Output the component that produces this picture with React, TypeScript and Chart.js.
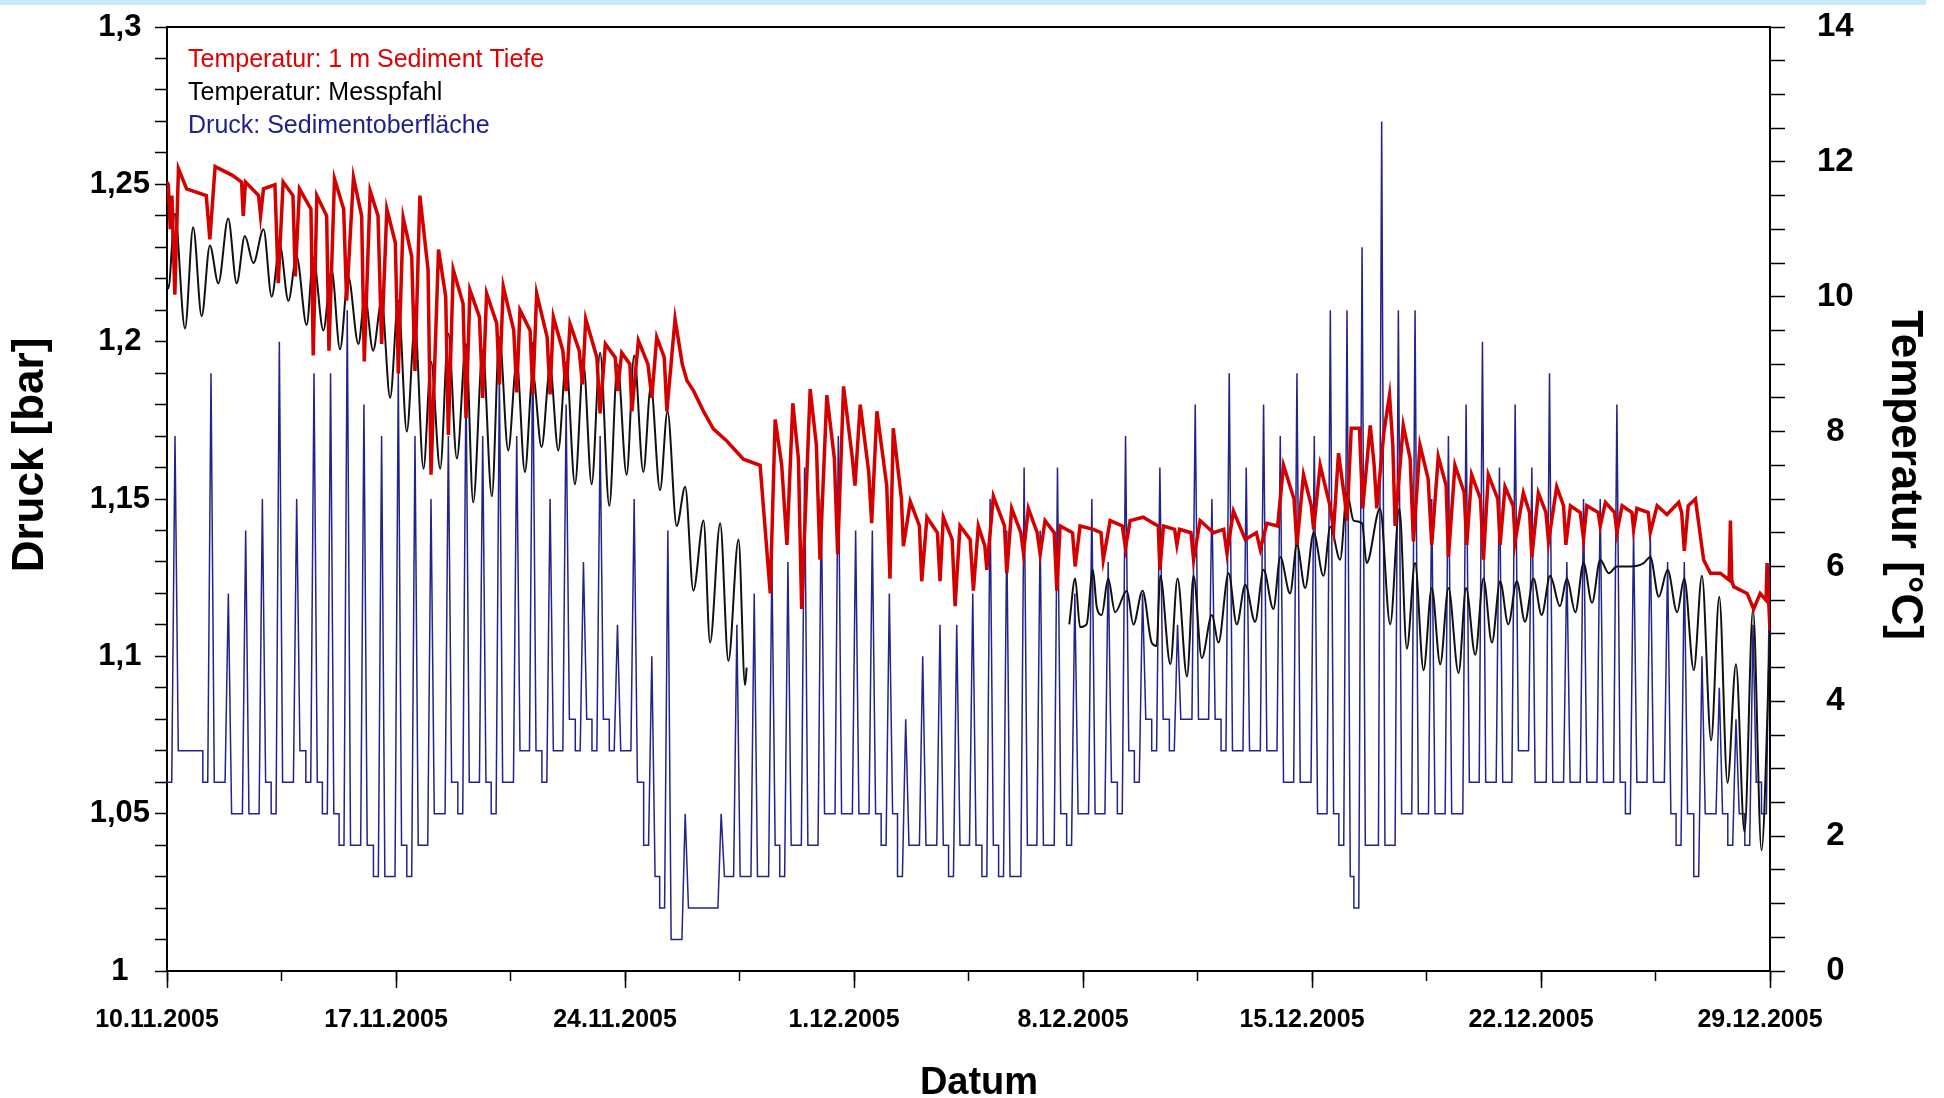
import React, { useEffect, useRef } from 'react';
import { Chart, registerables } from 'chart.js';

Chart.register(...registerables);

// ---------- data ----------
const xTickLabels = ['10.11.2005', '17.11.2005', '24.11.2005', '1.12.2005', '8.12.2005', '15.12.2005', '22.12.2005', '29.12.2005'];
const xMaxDays = 49;

const seriesLabels = ['Temperatur: 1 m Sediment Tiefe', 'Temperatur: Messpfahl', 'Druck: Sedimentoberfläche'];
const seriesColors = ['#d40000', '#111111', '#23238a'];
const legendColors = ['#e00000', '#000000', '#1e1e8c'];

// Pressure at the sediment surface (bar): tide spikes
const pressStart = 1.06;
const tideDays = [0.245, 1.345, 1.875, 2.405, 2.915, 3.434, 3.964, 4.494, 5.0, 5.51, 6.02, 6.56, 7.07, 7.58, 8.07, 8.6, 9.14, 9.65, 10.16, 10.69, 11.18, 11.71, 12.2, 12.73, 13.24, 13.77, 14.28, 14.82, 15.31, 15.84, 16.94, 17.42, 17.95, 18.49, 18.98, 19.49, 20.0, 20.52, 21.05, 21.56, 22.08, 22.58, 23.1, 23.63, 24.14, 24.63, 25.16, 25.67, 26.2, 26.69, 27.22, 27.75, 28.27, 28.77, 29.3, 29.82, 30.35, 30.89, 31.43, 31.94, 32.47, 32.99, 33.52, 34.03, 34.54, 35.07, 35.56, 36.07, 36.53, 37.13, 37.64, 38.15, 38.66, 39.17, 39.71, 40.21, 40.73, 41.21, 41.72, 42.26, 42.79, 43.3, 43.81, 44.32, 44.83, 45.34, 45.87, 46.38, 46.92, 47.45, 47.96, 48.48, 48.99];
const tidePeaks = [1.17, 1.19, 1.12, 1.14, 1.15, 1.20, 1.15, 1.19, 1.19, 1.21, 1.18, 1.17, 1.19, 1.17, 1.15, 1.17, 1.19, 1.17, 1.19, 1.17, 1.20, 1.15, 1.18, 1.13, 1.17, 1.11, 1.15, 1.10, 1.14, 1.05, 1.05, 1.11, 1.12, 1.13, 1.13, 1.16, 1.15, 1.17, 1.14, 1.14, 1.12, 1.08, 1.10, 1.11, 1.11, 1.12, 1.15, 1.14, 1.16, 1.14, 1.16, 1.12, 1.15, 1.13, 1.17, 1.12, 1.16, 1.11, 1.18, 1.15, 1.19, 1.16, 1.18, 1.17, 1.19, 1.17, 1.21, 1.21, 1.23, 1.27, 1.21, 1.21, 1.15, 1.17, 1.18, 1.20, 1.16, 1.18, 1.16, 1.19, 1.13, 1.15, 1.15, 1.18, 1.14, 1.14, 1.13, 1.13, 1.10, 1.09, 1.08, 1.11, 1.13];
const lowAfter = [1.07, 1.06, 1.05, 1.05, 1.06, 1.06, 1.07, 1.06, 1.05, 1.04, 1.04, 1.03, 1.04, 1.04, 1.05, 1.06, 1.06, 1.06, 1.06, 1.07, 1.07, 1.07, 1.08, 1.08, 1.08, 1.07, 1.06, 1.03, 1.01, 1.02, 1.03, 1.03, 1.03, 1.04, 1.04, 1.04, 1.05, 1.05, 1.05, 1.05, 1.05, 1.04, 1.04, 1.04, 1.04, 1.04, 1.04, 1.03, 1.04, 1.04, 1.05, 1.05, 1.05, 1.06, 1.07, 1.08, 1.08, 1.08, 1.08, 1.08, 1.07, 1.07, 1.07, 1.06, 1.06, 1.05, 1.05, 1.03, 1.04, 1.04, 1.05, 1.05, 1.05, 1.05, 1.06, 1.06, 1.06, 1.07, 1.06, 1.06, 1.06, 1.06, 1.06, 1.06, 1.06, 1.06, 1.05, 1.05, 1.05, 1.05, 1.05, 1.06, 1.06];
const lowBefore = [1.06, 1.06, 1.05, 1.05, 1.05, 1.06, 1.06, 1.05, 1.04, 1.04, 1.03, 1.03, 1.03, 1.04, 1.05, 1.05, 1.06, 1.05, 1.06, 1.07, 1.06, 1.07, 1.07, 1.07, 1.07, 1.07, 1.04, 1.02, 1.01, 1.02, 1.03, 1.03, 1.03, 1.03, 1.04, 1.04, 1.05, 1.05, 1.05, 1.04, 1.03, 1.04, 1.04, 1.03, 1.04, 1.03, 1.03, 1.03, 1.04, 1.04, 1.04, 1.05, 1.05, 1.05, 1.06, 1.07, 1.07, 1.08, 1.08, 1.07, 1.07, 1.07, 1.07, 1.06, 1.06, 1.05, 1.04, 1.02, 1.04, 1.04, 1.05, 1.05, 1.05, 1.05, 1.06, 1.06, 1.06, 1.07, 1.06, 1.06, 1.06, 1.06, 1.06, 1.05, 1.06, 1.06, 1.04, 1.03, 1.05, 1.04, 1.04, 1.05, 1.06];

// Temperature 1 m sediment depth: [day, °C]
const redSeries: [number, number][] = [
  [0, 11.7], [0.04, 11.66], [0.1, 11.0], [0.15, 11.5], [0.24, 10.03], [0.35, 11.9], [0.6, 11.6], [1.2, 11.5], [1.31, 10.85], [1.47, 11.93], [2.0, 11.8], [2.28, 11.7], [2.33, 11.2], [2.4, 11.7], [2.8, 11.5], [2.86, 11.2], [2.95, 11.6], [3.3, 11.66], [3.4, 10.2], [3.55, 11.7], [3.85, 11.5], [3.92, 10.3], [4.05, 11.6], [4.4, 11.3], [4.47, 9.13], [4.58, 11.5], [4.88, 11.2], [4.95, 9.2], [5.12, 11.75], [5.4, 11.3], [5.49, 9.94], [5.7, 11.77], [5.95, 11.2], [6.03, 9.04],
  [6.21, 11.57], [6.45, 11.2], [6.56, 9.3], [6.72, 11.3], [6.98, 10.8], [7.07, 8.86], [7.22, 11.17], [7.48, 10.6], [7.58, 8.9], [7.73, 11.5], [7.98, 10.4], [8.07, 7.36], [8.3, 10.7], [8.52, 10.0], [8.6, 7.95], [8.75, 10.4], [9.05, 9.9], [9.14, 8.2], [9.26, 10.1], [9.55, 9.7], [9.65, 8.5], [9.77, 10.05], [10.08, 9.6], [10.16, 8.7], [10.28, 10.15], [10.6, 9.5], [10.69, 8.58], [10.79, 9.8], [11.1, 9.5], [11.18, 8.55], [11.3, 10.05], [11.62, 9.4], [11.71, 8.55], [11.81, 9.7],
  [12.1, 9.2], [12.2, 8.6], [12.32, 9.6], [12.6, 9.2], [12.7, 8.7], [12.8, 9.67], [13.14, 9.1], [13.24, 8.27], [13.4, 9.3], [13.7, 9.1], [13.77, 8.6], [13.9, 9.17], [14.15, 9.0], [14.21, 8.3], [14.41, 9.35], [14.7, 9.0], [14.82, 8.5], [14.97, 9.4], [15.2, 9.1], [15.28, 8.3], [15.53, 9.67], [15.75, 9.0], [15.89, 8.76], [16.1, 8.6], [16.4, 8.3], [16.7, 8.04], [17.11, 7.86], [17.62, 7.59], [18.13, 7.5],
  [18.44, 5.6], [18.59, 8.18], [18.79, 7.5], [18.95, 6.32], [19.13, 8.42], [19.3, 7.6], [19.4, 5.37], [19.66, 8.63], [19.85, 7.8], [19.96, 6.1], [20.17, 8.54], [20.4, 7.6], [20.5, 6.18], [20.68, 8.67], [20.95, 7.6], [21.03, 7.2], [21.19, 8.4], [21.45, 7.4], [21.54, 6.64], [21.7, 8.3], [22.0, 7.2], [22.1, 5.82], [22.2, 8.05], [22.45, 7.0], [22.51, 6.3], [22.72, 6.96], [23.0, 6.6], [23.07, 5.78], [23.23, 6.73], [23.55, 6.5], [23.63, 5.78], [23.73, 6.73], [24.0, 6.4], [24.09, 5.41],
  [24.24, 6.6], [24.55, 6.4], [24.65, 5.64], [24.8, 6.6], [25.0, 6.3], [25.06, 5.95], [25.26, 7.04], [25.6, 6.6], [25.67, 5.9], [25.82, 6.86], [26.1, 6.5], [26.18, 6.2], [26.33, 6.86], [26.6, 6.5], [26.69, 6.18], [26.84, 6.68], [27.12, 6.5], [27.2, 5.64], [27.3, 6.6], [27.68, 6.5], [27.76, 6.0], [27.91, 6.6], [28.32, 6.55], [28.55, 6.5], [28.62, 6.1], [28.83, 6.68], [29.2, 6.6], [29.3, 6.27], [29.44, 6.68], [29.84, 6.73], [30.15, 6.64], [30.3, 6.6], [30.35, 5.95],
  [30.46, 6.6], [30.8, 6.55], [30.87, 6.32], [30.95, 6.55], [31.3, 6.5], [31.38, 6.1], [31.58, 6.68], [31.99, 6.5], [32.3, 6.55], [32.4, 6.2], [32.6, 6.82], [32.96, 6.4], [33.3, 6.5], [33.42, 6.25], [33.62, 6.64], [33.95, 6.6], [34.13, 7.5], [34.45, 7.0], [34.54, 6.32], [34.74, 7.36], [34.98, 6.9], [35.05, 6.55], [35.25, 7.5], [35.55, 6.9], [35.66, 6.55], [35.81, 7.68], [36.0, 7.0], [36.07, 6.68], [36.2, 8.05], [36.45, 8.05], [36.55, 6.86],
  [36.78, 8.09], [36.9, 7.5], [36.98, 6.86], [37.2, 8.0], [37.37, 8.54], [37.47, 7.8], [37.54, 6.6], [37.79, 8.09], [38.0, 7.6], [38.1, 6.37], [38.3, 7.8], [38.55, 7.3], [38.66, 6.32], [38.86, 7.63], [39.1, 7.2], [39.17, 6.14], [39.37, 7.5], [39.65, 7.1], [39.73, 6.32], [39.88, 7.36], [40.15, 7.0], [40.24, 6.1], [40.39, 7.36], [40.68, 7.0], [40.75, 6.32], [40.9, 7.18], [41.15, 6.9], [41.21, 6.37], [41.46, 7.09], [41.65, 6.8], [41.72, 6.14], [41.92, 7.09], [42.15, 6.8], [42.23, 6.37], [42.48, 7.18],
  [42.69, 6.9], [42.76, 6.32], [42.9, 6.9], [43.2, 6.8], [43.3, 6.41], [43.4, 6.9], [43.75, 6.8], [43.81, 6.6], [43.97, 6.95], [44.25, 6.8], [44.32, 6.5], [44.48, 6.9], [44.78, 6.8], [44.83, 6.55], [44.93, 6.86], [45.28, 6.8], [45.34, 6.5], [45.55, 6.9], [45.85, 6.77], [46.21, 6.95], [46.3, 6.8], [46.38, 6.23], [46.5, 6.9], [46.72, 7.0], [46.97, 6.1], [47.18, 5.9], [47.48, 5.9], [47.75, 5.8], [47.79, 6.68], [47.83, 5.8], [47.89, 5.7], [48.3, 5.6], [48.5, 5.37], [48.7, 5.6], [48.88, 5.5], [48.91, 6.05], [48.95, 5.6], [49.0, 5.05]
];

// Temperature at the measuring pile: [day, °C]; null = no data
const blackSeries: [number, number | null][] = [
  [0, 10.2], [0.04, 10.12], [0.24, 11.23], [0.55, 9.53], [0.8, 11.03], [1.06, 9.71], [1.31, 10.76], [1.57, 10.2], [1.87, 11.16], [2.13, 10.2], [2.38, 10.9], [2.64, 10.5], [2.95, 11.0], [3.2, 10.0], [3.45, 10.76], [3.71, 9.94], [3.96, 10.6], [4.27, 9.58], [4.47, 10.58], [4.78, 9.5], [5.03, 10.4], [5.29, 9.22], [5.54, 10.3], [5.85, 9.3],
  [6.05, 10.0], [6.3, 9.2], [6.56, 9.94], [6.82, 8.5], [7.07, 9.94], [7.33, 8.0], [7.58, 9.6], [7.84, 7.45], [8.07, 9.04], [8.35, 7.45], [8.6, 9.45], [8.86, 7.6], [9.14, 9.3], [9.36, 6.95], [9.65, 9.2], [9.93, 7.04], [10.16, 9.4], [10.43, 7.72], [10.69, 9.04], [10.94, 7.4], [11.18, 8.86], [11.45, 7.77], [11.71, 8.95], [11.96, 7.72],
  [12.2, 9.03], [12.47, 7.22], [12.73, 9.0], [12.98, 7.22], [13.24, 9.17], [13.52, 6.9], [13.77, 9.0], [14.05, 7.36], [14.28, 9.13], [14.56, 7.4], [14.79, 8.67], [15.07, 7.13], [15.3, 8.3], [15.58, 6.6], [15.84, 7.18], [16.09, 5.64], [16.4, 6.68], [16.6, 4.87], [16.91, 6.64], [17.16, 4.6], [17.47, 6.4], [17.67, 4.24], [17.72, 4.5],
  [22.5, null],
  [27.58, 5.14], [27.76, 5.82], [27.91, 5.1], [28.11, 5.14], [28.3, 5.95], [28.42, 5.4], [28.57, 5.28], [28.77, 5.82], [28.98, 5.32], [29.34, 5.64], [29.54, 5.14], [29.82, 5.64], [30.1, 4.87], [30.25, 4.82], [30.36, 5.86], [30.67, 4.55], [30.89, 5.82], [31.18, 4.37], [31.38, 5.86], [31.63, 4.64], [31.94, 5.28], [32.14, 4.87], [32.45, 5.9], [32.7, 5.14], [32.96, 5.73], [33.26, 5.18], [33.52, 5.95], [33.82, 5.37], [34.03, 6.14], [34.33, 5.6], [34.54, 6.32], [34.79, 5.68], [35.05, 6.5], [35.35, 5.86], [35.56, 6.59], [35.86, 6.1], [36.07, 7.09], [36.27, 6.68], [36.53, 6.64],
  [36.67, 6.05], [37.08, 6.86], [37.39, 5.14], [37.67, 6.86], [37.9, 4.78], [38.15, 6.05], [38.41, 4.46], [38.66, 5.68], [38.92, 4.55], [39.17, 5.68], [39.48, 4.42], [39.71, 5.68], [39.99, 4.69], [40.24, 5.82], [40.5, 4.87], [40.75, 5.78], [41.0, 5.14], [41.26, 5.78], [41.51, 5.18], [41.77, 5.82], [42.02, 5.28], [42.28, 5.86], [42.58, 5.41],
  [42.79, 5.82], [43.05, 5.32], [43.3, 6.05], [43.56, 5.46], [43.81, 6.1], [44.07, 5.9], [44.32, 6.0], [44.73, 6.0], [45.14, 6.05], [45.34, 6.14], [45.6, 5.55], [45.87, 5.95], [46.16, 5.32], [46.38, 5.82], [46.67, 4.46], [46.92, 5.86], [47.2, 3.42], [47.45, 5.55], [47.7, 2.79], [47.96, 4.55], [48.22, 2.06], [48.48, 5.37], [48.74, 1.79], [49.0, 5.0]
];

// ---------- fonts ----------
const SANS = "'Liberation Sans', Arial, Helvetica, sans-serif";

function buildPressure() {
  const pts: { x: number; y: number }[] = [{ x: 0, y: pressStart }];
  let prev = pressStart;
  for (let i = 0; i < tideDays.length; i++) {
    const t = tideDays[i];
    pts.push({ x: t - 0.1, y: prev });
    pts.push({ x: t, y: tidePeaks[i] });
    pts.push({ x: t + 0.1, y: lowAfter[i] });
    const next = i + 1 < tideDays.length ? tideDays[i + 1] : xMaxDays + 0.3;
    if (lowBefore[i] !== lowAfter[i]) {
      const ts = next - 0.25;
      pts.push({ x: ts, y: lowAfter[i] }, { x: ts, y: lowBefore[i] });
    }
    prev = lowBefore[i];
  }
  pts.push({ x: xMaxDays + 0.3, y: prev });
  return pts;
}

const decorPlugin = {
  id: 'decor',
  afterDraw(chart: any) {
    const { ctx, chartArea } = chart;
    ctx.save();
    // top frame line
    ctx.strokeStyle = '#000';
    ctx.lineWidth = 2;
    ctx.beginPath();
    ctx.moveTo(chartArea.left - 1, chartArea.top);
    ctx.lineTo(chartArea.right + 1, chartArea.top);
    ctx.stroke();

    // legend (coloured text only)
    ctx.font = `25px ${SANS}`;
    ctx.textAlign = 'left';
    ctx.textBaseline = 'alphabetic';
    seriesLabels.forEach((t, i) => {
      ctx.fillStyle = legendColors[i];
      ctx.fillText(t, chartArea.left + 21, chartArea.top + 40 + 33 * i);
    });

    // axis titles
    ctx.fillStyle = '#000';
    ctx.textAlign = 'center';
    ctx.textBaseline = 'middle';
    ctx.font = `bold 44px ${SANS}`;
    ctx.save();
    ctx.translate(31, 455);
    ctx.rotate(-Math.PI / 2);
    ctx.fillText('Druck [bar]', 0, 0);
    ctx.restore();

    ctx.save();
    ctx.translate(1904, 475);
    ctx.rotate(Math.PI / 2);
    ctx.fillText('Temperatur [°C]', 0, 0);
    ctx.restore();

    ctx.font = `bold 38px ${SANS}`;
    ctx.textBaseline = 'alphabetic';
    ctx.fillText('Datum', 979, 1094);
    ctx.restore();
  }
};

export default function App() {
  const ref = useRef<HTMLCanvasElement | null>(null);

  useEffect(() => {
    if (!ref.current) return;
    const pressure = buildPressure();
    const red = redSeries.map(([x, y]) => ({ x, y }));
    const black = blackSeries.map(([x, y]) => ({ x, y }));

    const chart = new Chart(ref.current, {
      type: 'line',
      data: {
        datasets: [
          {
            label: seriesLabels[0], data: red, yAxisID: 'yT', xAxisID: 'x',
            borderColor: seriesColors[0], borderWidth: 3.5, pointRadius: 0, tension: 0, order: 0,
          },
          {
            label: seriesLabels[1], data: black as any, yAxisID: 'yT', xAxisID: 'x',
            borderColor: seriesColors[1], borderWidth: 2, pointRadius: 0, cubicInterpolationMode: 'monotone', spanGaps: false, order: 1,
          },
          {
            label: seriesLabels[2], data: pressure, yAxisID: 'yP', xAxisID: 'x',
            borderColor: seriesColors[2], borderWidth: 1.5, pointRadius: 0, tension: 0, order: 2,
          },
        ],
      },
      options: {
        animation: false,
        responsive: true,
        maintainAspectRatio: false,
        layout: { padding: { top: 27, left: 0, right: 0, bottom: 0 } },
        plugins: { legend: { display: false }, tooltip: { enabled: false } },
        scales: {
          x: {
            type: 'linear', position: 'bottom', min: 0, max: xMaxDays, weight: 1,
            ticks: {
              stepSize: 7, autoSkip: false, maxRotation: 0, minRotation: 0, labelOffset: -10, padding: 17,
              color: '#000', font: { family: SANS, size: 25, weight: 'bold' },
              callback: (v: any) => xTickLabels[Math.round(Number(v) / 7)] ?? '',
            },
            grid: { drawOnChartArea: false, drawTicks: true, tickLength: 17, tickColor: '#000', tickWidth: 1.5 },
            border: { display: true, color: '#000', width: 2 },
            afterFit: (s: any) => { s.height = 127; s.paddingLeft = 0; s.paddingRight = 0; },
          },
          xMinor: {
            type: 'linear', position: 'bottom', min: 0, max: xMaxDays, weight: 0,
            ticks: { stepSize: 3.5, display: false, autoSkip: false },
            grid: { drawOnChartArea: false, drawTicks: true, tickLength: 10, tickColor: '#000', tickWidth: 1.5 },
            border: { display: false },
            afterFit: (s: any) => { s.height = 0; s.paddingLeft = 0; s.paddingRight = 0; },
          },
          yP: {
            type: 'linear', position: 'left', min: 1, max: 1.3,
            ticks: {
              stepSize: 0.01, autoSkip: false, crossAlign: 'center', padding: 5, color: '#000',
              font: { family: SANS, size: 31, weight: 'bold' },
              callback: (v: any) => {
                const n = Math.round(Number(v) * 100);
                return n % 5 === 0 ? String(n / 100).replace('.', ',') : '';
              },
            },
            grid: { drawOnChartArea: false, drawTicks: true, tickLength: 12, tickColor: '#000', tickWidth: 1.5 },
            border: { display: true, color: '#000', width: 2 },
            afterFit: (s: any) => { s.width = 167; s.paddingTop = 0; s.paddingBottom = 0; },
          },
          yT: {
            type: 'linear', position: 'right', min: 0, max: 14,
            ticks: {
              stepSize: 0.5, autoSkip: false, crossAlign: 'center', padding: 32, color: '#000',
              font: { family: SANS, size: 33, weight: 'bold' },
              callback: (v: any) => {
                const n = Math.round(Number(v) * 2);
                return n % 4 === 0 ? String(n / 2) : '';
              },
            },
            grid: { drawOnChartArea: false, drawTicks: true, tickLength: 15, tickColor: '#000', tickWidth: 1.5 },
            border: { display: true, color: '#000', width: 2 },
            afterFit: (s: any) => { s.width = 174; s.paddingTop = 0; s.paddingBottom = 0; },
          },
        },
      } as any,
      plugins: [decorPlugin],
    });
    return () => chart.destroy();
  }, []);

  return (
    <div style={{ position: 'fixed', left: 0, top: 0, width: 1944, height: 1098, background: '#ffffff' }}>
      <canvas ref={ref} />
      <div style={{ position: 'absolute', left: 0, top: 0, width: 1926, height: 5, background: '#c6ecf9' }} />
    </div>
  );
}
